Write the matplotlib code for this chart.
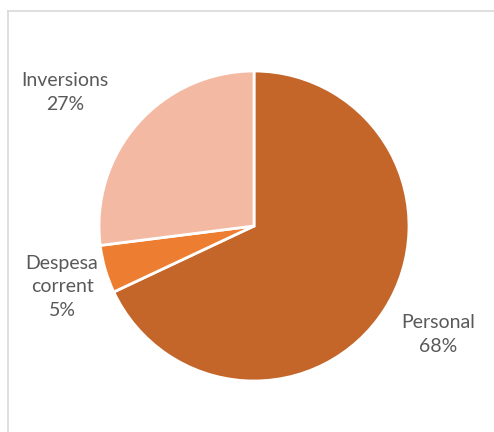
import matplotlib
matplotlib.use("Agg")
import matplotlib.pyplot as plt
from matplotlib.lines import Line2D

categories = ["Personal", "Despesa\ncorrent", "Inversions"]
values = [68, 5, 27]
colors = ["#C4662A", "#ED7D31", "#F4B9A3"]

W, H = 494, 432
fig = plt.figure(figsize=(W / 100, H / 100), dpi=100)
fig.patch.set_facecolor("white")

cx, cy, r = 254, 226, 155
ax = fig.add_axes([(cx - r) / W, (H - cy - r) / H, 2 * r / W, 2 * r / H])
ax.pie(values, colors=colors, startangle=90, counterclock=False,
       wedgeprops=dict(edgecolor="white", linewidth=2))
ax.set_xlim(-1, 1)
ax.set_ylim(-1, 1)
ax.set_aspect("equal")
ax.axis("off")

# labels (pixel positions)
label_pos = [(438, 335), (62, 287), (65, 92)]
for cat, val, (px, py) in zip(categories, values, label_pos):
    fig.text(px / W, 1 - py / H, f"{cat}\n{val}%", ha="center", va="center",
             fontsize=14, color="#595959", family=["Lato", "DejaVu Sans"],
             linespacing=1.5)

# chart frame (top and left border)
fig.add_artist(Line2D([8 / W, 1], [1 - 11 / H, 1 - 11 / H], transform=fig.transFigure,
                      color="#D9D9D9", linewidth=1.2))
fig.add_artist(Line2D([8 / W, 8 / W], [0, 1 - 11 / H], transform=fig.transFigure,
                      color="#D9D9D9", linewidth=1.2))

fig.savefig("out.png", dpi=100)
